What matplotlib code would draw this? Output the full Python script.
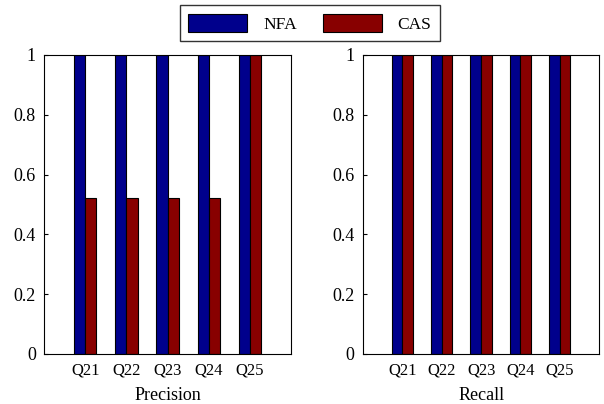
import numpy as np
import matplotlib.pyplot as plt

plt.rcParams['font.family'] = ['Liberation Serif', 'DejaVu Serif']

queries = ['Q21', 'Q22', 'Q23', 'Q24', 'Q25']
precision_nfa = [1, 1, 1, 1, 1]
precision_cas = [0.52, 0.52, 0.52, 0.52, 1]
recall_nfa = [1, 1, 1, 1, 1]
recall_cas = [1, 1, 1, 1, 1]

blue = '#00008c'
red = '#880000'
w = 0.27

fig = plt.figure(figsize=(6.04, 4.04), dpi=100)
ax1 = fig.add_axes([0.073, 0.124, 0.409, 0.740])
ax2 = fig.add_axes([0.601, 0.124, 0.391, 0.740])

x = np.arange(1, len(queries) + 1)
for ax, nfa, cas, name in [(ax1, precision_nfa, precision_cas, 'Precision'),
                           (ax2, recall_nfa, recall_cas, 'Recall')]:
    b1 = ax.bar(x - w / 2, nfa, w, color=blue, edgecolor='black', linewidth=0.8, label='NFA')
    b2 = ax.bar(x + w / 2, cas, w, color=red, edgecolor='black', linewidth=0.8, label='CAS')
    ax.set_xlim(0, 6)
    ax.set_ylim(0, 1)
    ax.set_xticks(x)
    ax.set_xticklabels(queries, fontsize=12)
    ax.set_yticks([0, 0.2, 0.4, 0.6, 0.8, 1])
    ax.set_yticklabels(['0', '0.2', '0.4', '0.6', '0.8', '1'], fontsize=13)
    ax.tick_params(axis='x', length=0, pad=6)
    ax.tick_params(axis='y', direction='in', length=3, pad=6)
    ax.set_xlabel(name, fontsize=13, labelpad=6.5)

fig.legend([b1, b2], ['NFA', 'CAS'], loc='upper center', bbox_to_anchor=(0.513, 0.988),
           ncol=2, fontsize=12.5, frameon=True, fancybox=False, edgecolor='black',
           handlelength=3.4, handleheight=1.3, handletextpad=0.9, columnspacing=1.5,
           borderpad=0.5, borderaxespad=0)

fig.savefig('out.png', dpi=100)
